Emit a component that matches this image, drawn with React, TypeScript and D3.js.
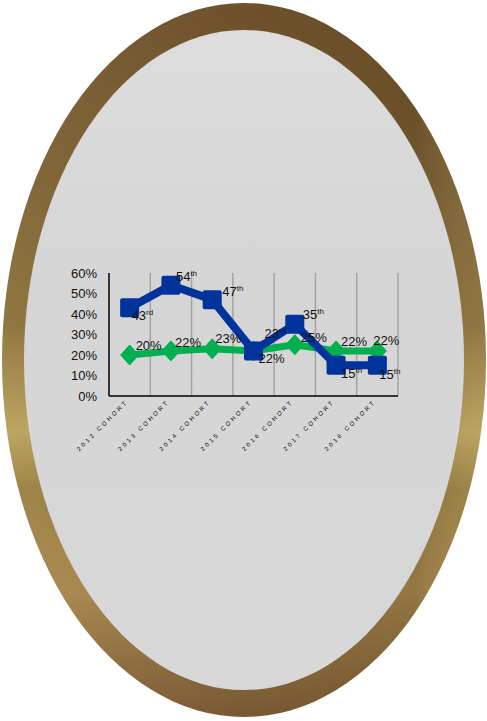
import React from "react";
import * as d3 from "d3";

const categories = ["2012 COHORT", "2013 COHORT", "2014 COHORT", "2015 COHORT", "2016 COHORT", "2017 COHORT", "2018 COHORT"];
const rankValues = [43, 54, 47, 22, 35, 15, 15];
const rankLabels = ["43", "54", "47", "23", "35", "15", "15"];
const rankSuffixes = ["rd", "th", "th", "rd", "th", "th", "th"];
const pctValues = [20, 22, 23, 22, 25, 22, 22];
const pctLabels = ["20%", "22%", "23%", "22%", "25%", "22%", "22%"];
const yTicks = [0, 10, 20, 30, 40, 50, 60];

// label offsets (style config, relative to each point)
const rankLabelOffsets: [number, number][] = [[2, 12], [5, -4], [10, -4], [11, -13], [8, -5], [5, 13], [2, 14]];
const pctLabelOffsets: [number, number][] = [[6, -5], [4, -4], [3, -6], [5, 12], [6, -3], [5, -5], [-4, -6]];

const FONT = "'Liberation Sans', Arial, Helvetica, sans-serif";
const BLUE = "#00339b";
const GREEN = "#00b050";

export default function App() {
  const W = 487, H = 721;
  const x = d3.scaleBand<string>().domain(categories).range([109, 398]).padding(0);
  const y = d3.scaleLinear().domain([0, 60]).range([396, 273]);
  const cx = (i: number) => (x(categories[i]) as number) + x.bandwidth() / 2;

  const line = d3.line<number>().x((_, i) => cx(i)).y((d) => y(d));
  const gridXs = categories.map((c) => (x(c) as number) + x.bandwidth());

  return (
    <svg width={W} height={H} style={{ position: "absolute", left: 0, top: 0 }} fontFamily={FONT}>
      <defs>
        <linearGradient id="frameV" x1="0" y1="0" x2="0" y2="1">
          <stop offset="0%" stopColor="#74552d" />
          <stop offset="25%" stopColor="#7d6031" />
          <stop offset="45%" stopColor="#8a6f36" />
          <stop offset="60%" stopColor="#b9a05a" />
          <stop offset="68%" stopColor="#9a7e3f" />
          <stop offset="82%" stopColor="#a8874b" />
          <stop offset="100%" stopColor="#7e5d35" />
        </linearGradient>
        <linearGradient id="frameH" x1="0" y1="0" x2="1" y2="0">
          <stop offset="0%" stopColor="#ffffff" stopOpacity="0.06" />
          <stop offset="50%" stopColor="#000000" stopOpacity="0.05" />
          <stop offset="85%" stopColor="#000000" stopOpacity="0.12" />
          <stop offset="100%" stopColor="#ffffff" stopOpacity="0.06" />
        </linearGradient>
        <linearGradient id="inner" x1="0" y1="0" x2="0" y2="1">
          <stop offset="0%" stopColor="#dddddd" />
          <stop offset="40%" stopColor="#d5d5d5" />
          <stop offset="100%" stopColor="#d8d8d8" />
        </linearGradient>
      </defs>
      <rect x={0} y={0} width={W} height={H} fill="#ffffff" />
      <ellipse cx={244} cy={360} rx={242} ry={357} fill="url(#frameV)" />
      <ellipse cx={244} cy={360} rx={242} ry={357} fill="url(#frameH)" />
      <ellipse cx={244} cy={360} rx={220} ry={330} fill="url(#inner)" />

      {/* gridlines */}
      {gridXs.map((gx, i) => (
        <line key={i} x1={gx} x2={gx} y1={y(60)} y2={y(0)} stroke="#a3a3a3" strokeWidth={1.5} />
      ))}
      {/* axes */}
      <line x1={109} x2={109} y1={y(60)} y2={y(0)} stroke="#000" strokeWidth={1.5} />
      <line x1={109} x2={398} y1={y(0)} y2={y(0)} stroke="#000" strokeWidth={1.5} />

      {yTicks.map((t) => (
        <text key={t} x={97} y={y(t) + 4.5} textAnchor="end" fontSize={13} fill="#111">
          {t}%
        </text>
      ))}

      {categories.map((c, i) => (
        <text
          key={c}
          transform={`translate(${cx(i) - 3},${y(0) + 8}) rotate(-45)`}
          textAnchor="end"
          fontSize={6}
          textLength={67}
          lengthAdjust="spacing"
          fill="#000"
        >
          {c}
        </text>
      ))}

      {/* green series */}
      <path d={line(pctValues) || ""} fill="none" stroke={GREEN} strokeWidth={7} strokeLinejoin="round" />
      {pctValues.map((v, i) => (
        <path key={i} d={`M0,-10L9,0L0,10L-9,0Z`} transform={`translate(${cx(i)},${y(v)})`} fill={GREEN} stroke={GREEN} strokeWidth={1} strokeLinejoin="round" />
      ))}

      {/* blue series */}
      <path d={line(rankValues) || ""} fill="none" stroke={BLUE} strokeWidth={8} strokeLinejoin="round" />
      {rankValues.map((v, i) => (
        <rect key={i} x={cx(i) - 9.5} y={y(v) - 9.5} width={19} height={19} rx={2} fill={BLUE} />
      ))}

      {/* labels */}
      {pctValues.map((v, i) => (
        <text key={i} x={cx(i) + pctLabelOffsets[i][0]} y={y(v) + pctLabelOffsets[i][1]} fontSize={13} fill="#111">
          {pctLabels[i]}
        </text>
      ))}
      {rankValues.map((v, i) => (
        <text key={i} x={cx(i) + rankLabelOffsets[i][0]} y={y(v) + rankLabelOffsets[i][1]} fontSize={13} fill="#111">
          {rankLabels[i]}
          <tspan fontSize={8} dy={-5}>{rankSuffixes[i]}</tspan>
        </text>
      ))}
    </svg>
  );
}
